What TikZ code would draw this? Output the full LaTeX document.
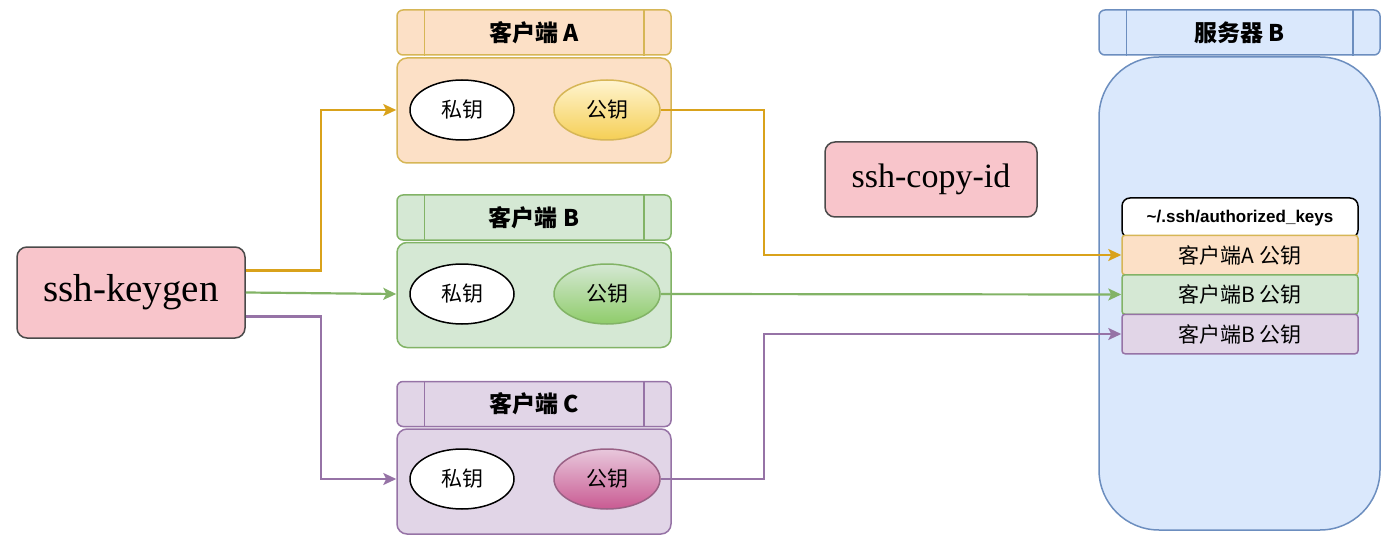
\documentclass[tikz,border=0pt]{standalone}
\usepackage{fontspec}
\setmainfont{Liberation Serif}
\newfontfamily\cjk{Noto Sans CJK SC}
\newfontfamily\lsans{Liberation Sans}
\usetikzlibrary{arrows.meta}
\usetikzlibrary{positioning}
\usetikzlibrary{shapes.geometric}

\definecolor{pinkf}{HTML}{F8C5CB}
\definecolor{darkl}{HTML}{4A4A4A}
\definecolor{orf}{HTML}{FCE0C6}
\definecolor{orl}{HTML}{D6B656}
\definecolor{ora}{HTML}{D9A21B}
\definecolor{grf}{HTML}{D5E8D4}
\definecolor{grl}{HTML}{82B366}
\definecolor{puf}{HTML}{E1D5E7}
\definecolor{pul}{HTML}{9673A6}
\definecolor{blf}{HTML}{DAE8FC}
\definecolor{bll}{HTML}{6C8EBF}
\definecolor{yltop}{HTML}{FFF4D0}
\definecolor{ylbot}{HTML}{F5CF55}
\definecolor{grbot}{HTML}{8FCC6A}
\definecolor{pktop}{HTML}{E8C8DC}
\definecolor{pkbot}{HTML}{C95A92}
\definecolor{pkl}{HTML}{996185}

\tikzset{
  cmd/.style={draw=darkl, fill=pinkf, line width=1.5pt, rounded corners=10pt},
  head/.style={draw=#1, line width=1.5pt, rounded corners=6pt,
    minimum width=274pt, minimum height=45pt, inner sep=0pt,
    font=\cjk\bfseries\fontsize{23}{26}\selectfont},
  body/.style={draw=#1, line width=1.5pt, rounded corners=10pt,
    minimum width=274pt, minimum height=105pt, inner sep=0pt},
  priv/.style={ellipse, draw=black, fill=white, line width=1.5pt,
    minimum width=104pt, minimum height=60pt, inner sep=0pt,
    font=\cjk\fontsize{21}{24}\selectfont},
  pub/.style={ellipse, line width=1.5pt,
    minimum width=106pt, minimum height=60pt, inner sep=0pt,
    font=\cjk\fontsize{21}{24}\selectfont},
  row/.style={draw=#1, line width=1.5pt, rounded corners=3pt,
    minimum width=236pt, minimum height=39.5pt, inner sep=0pt,
    font=\cjk\fontsize{21}{24}\selectfont},
  link/.style={draw=#1, line width=2.2pt,
    -{Stealth[length=13pt,width=12pt,inset=3pt]}}
}

\begin{document}
\begin{tikzpicture}[x=1pt, y=-1pt]
\useasboundingbox (0,0) rectangle (1389,540);

% generator
\node[cmd, minimum width=228pt, minimum height=91pt,
  font=\fontsize{39}{44}\selectfont] (keygen) at (131,292.5) {ssh-keygen};
\node[cmd, minimum width=212pt, minimum height=75pt,
  font=\fontsize{34}{40}\selectfont] (copyid) at (931,179.5) {ssh-copy-id};

% client A
\node[head=orl, fill=orf] (hA) at (534,32.5) {客户端 A};
\node[body=orl, fill=orf] (bA) at (534,110.5) {};
\node[priv] (privA) at (462,110) {私钥};
\node[pub, draw=orl, top color=yltop, bottom color=ylbot] (pubA) at (607,110) {公钥};

% client B
\node[head=grl, fill=grf] (hB) at (534,217.5) {客户端 B};
\node[body=grl, fill=grf] (bB) at (534,295) {};
\node[priv] (privB) at (462,294) {私钥};
\node[pub, draw=grl, top color=grf, bottom color=grbot] (pubB) at (607,294) {公钥};

% client C
\node[head=pul, fill=puf] (hC) at (534,404) {客户端 C};
\node[body=pul, fill=puf] (bC) at (534,481.5) {};
\node[priv] (privC) at (462,479) {私钥};
\node[pub, draw=pkl, top color=pktop, bottom color=pkbot] (pubC) at (607,479) {公钥};

% header bars
\foreach \h/\c in {hA/orl, hB/grl, hC/pul}{
  \draw[\c, line width=1.5pt] ([xshift=28pt]\h.north west) -- ([xshift=28pt]\h.south west);
  \draw[\c, line width=1.5pt] ([xshift=-28pt]\h.north east) -- ([xshift=-28pt]\h.south east);
}

% server B
\node[head=bll, fill=blf, minimum width=281pt] (hS) at (1239.5,32.5) {服务器 B};
\draw[bll, line width=1.5pt] ([xshift=28pt]hS.north west) -- ([xshift=28pt]hS.south west);
\draw[bll, line width=1.5pt] ([xshift=-28pt]hS.north east) -- ([xshift=-28pt]hS.south east);
\node[draw=bll, fill=blf, line width=1.5pt, rounded corners=60pt,
  minimum width=281pt, minimum height=473pt] (bS) at (1239.5,293.5) {};

\node[row=black, fill=white, rounded corners=8pt, minimum height=40pt,
  font=\lsans\bfseries\fontsize{17}{20}\selectfont] (keys) at (1240,218) {\textasciitilde/.ssh/authorized\_keys};
\node[row=orl, fill=orf] (keyA) at (1240,255) {客户端A 公钥};
\node[row=grl, fill=grf] (keyB) at (1240,294.5) {客户端B 公钥};
\node[row=pul, fill=puf] (keyC) at (1240,334) {客户端B 公钥};

% generate
\draw[link=ora] ([yshift=22pt]keygen.east) -| (321,110) -- (bA.west |- privA);
\draw[link=grl] (keygen.east) -- (bB.west |- privB);
\draw[link=pul] ([yshift=-24pt]keygen.east) -| (321,479) -- (bC.west |- privC);

% copy
\draw[link=ora] (pubA.east) -| (764,255) -- (keyA.west);
\draw[link=grl] (pubB.east) -- (keyB.west);
\draw[link=pul] (pubC.east) -| (764,334) -- (keyC.west);
\end{tikzpicture}
\end{document}
